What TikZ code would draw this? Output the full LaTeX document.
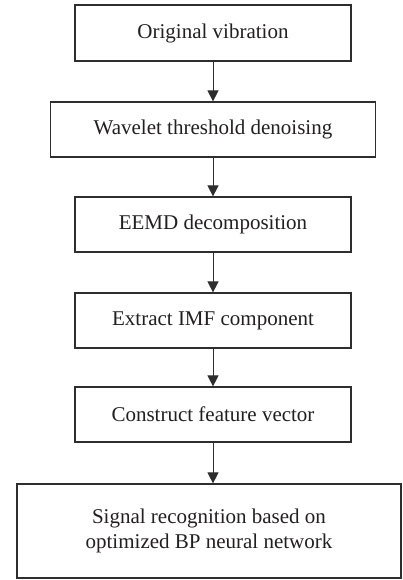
\documentclass[tikz,border=0pt]{standalone}
\usepackage{fontspec}
\setmainfont{Liberation Serif}
\usepackage{xcolor}
\usepackage{tikz}
\usetikzlibrary{arrows.meta,positioning}
\definecolor{flowInk}{HTML}{231F20}
\definecolor{flowLine}{HTML}{2E2E2E}
\tikzset{
  stage/.style={
    rectangle,
    draw=flowLine,
    line width=1.2pt,
    inner sep=0pt,
    minimum width=276pt,
    minimum height=55pt,
    align=center,
    text=flowInk,
    font=\fontsize{21}{25}\selectfont
  },
  stageWide/.style={
    stage,
    minimum width=384pt,
    minimum height=94pt
  },
  arrow/.style={
    -{Triangle[length=11pt,width=11pt]},
    line width=1pt,
    draw=flowLine
  }
}
\begin{document}
\begin{tikzpicture}[x=1pt,y=-1pt]
  \useasboundingbox (0,0) rectangle (402,580);
  \node[stage,minimum height=56pt] (orig) at (213,33) {Original vibration};
  \node[stage,minimum width=325pt] (denoise) at (213,129.5) {Wavelet threshold denoising};
  \node[stage] (eemd) at (213,224.5) {EEMD decomposition};
  \node[stage] (imf) at (213,320.5) {Extract IMF component};
  \node[stage] (feature) at (213,414.5) {Construct feature vector};
  \node[stageWide] (recog) at (209,531) {Signal recognition based on\\optimized BP neural network};
  \draw[arrow] (orig) -- (denoise);
  \draw[arrow] (denoise) -- (eemd);
  \draw[arrow] (eemd) -- (imf);
  \draw[arrow] (imf) -- (feature);
  \draw[arrow] (feature.south) -- (feature.south |- recog.north);
\end{tikzpicture}
\end{document}
